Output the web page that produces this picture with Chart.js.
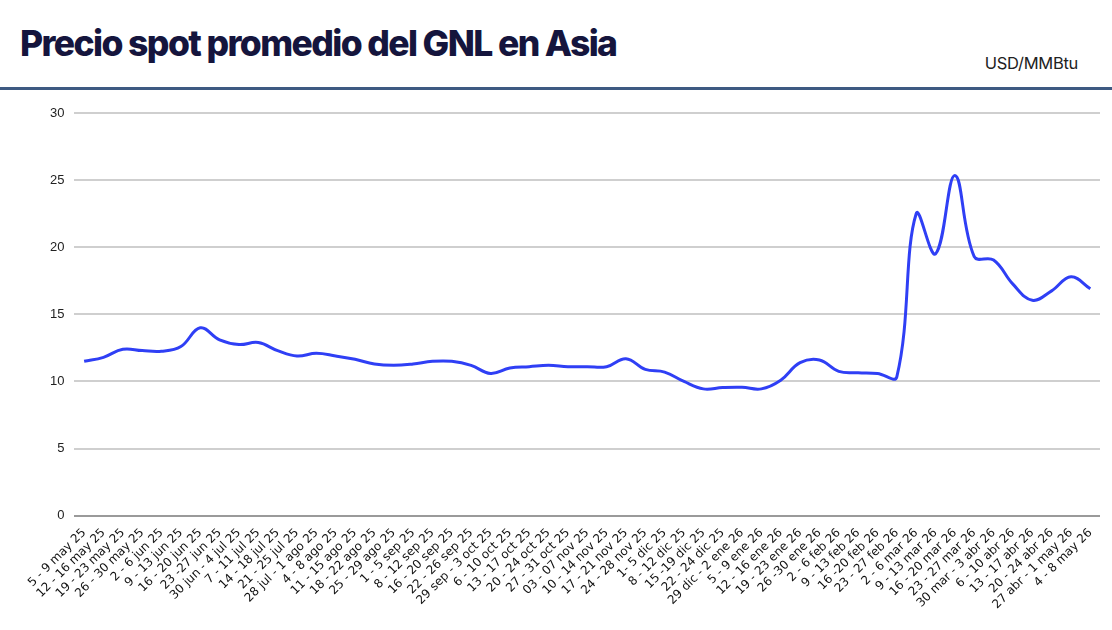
<!DOCTYPE html>
<html>
<head>
<meta charset="utf-8">
<script src="https://cdn.jsdelivr.net/npm/chart.js@4.4.1/dist/chart.umd.min.js"></script>
<style>
  html, body { margin: 0; padding: 0; background: #fff; }
  body { width: 1112px; height: 630px; position: relative; overflow: hidden; }
  #title {
    position: absolute; left: 20px; top: 22px;
    font-family: Inter, sans-serif; font-weight: 800; font-size: 35.5px;
    letter-spacing: -1.6px; color: #15153d; white-space: nowrap;
  }
  #unit {
    position: absolute; right: 34px; top: 53px;
    font-family: Inter, sans-serif; font-size: 16.5px; color: #222;
    letter-spacing: -0.3px;
  }
  #rule {
    position: absolute; left: 0; top: 87px; width: 1112px; height: 3px;
    background: #3e5a82;
  }
  #wrap { position: absolute; left: 0; top: 92px; width: 1112px; height: 522px; }
</style>
</head>
<body>
<div id="title">Precio spot promedio del GNL en Asia</div>
<div id="unit">USD/MMBtu</div>
<div id="rule"></div>
<div id="wrap"><canvas id="lngChart"></canvas></div>
<script>
// semanas (eje x)
const weeks = [
  '5 - 9 may 25', '12 - 16 may 25', '19 - 23 may 25', '26 - 30 may 25',
  '2 - 6 jun 25', '9 - 13 jun 25', '16 - 20 jun 25', '23 -27 jun 25',
  '30 jun - 4 jul 25', '7 - 11 jul 25', '14 - 18 jul 25', '21 - 25 jul 25',
  '28 jul - 1 ago 25', '4 - 8 ago 25', '11 - 15 ago 25', '18 - 22 ago 25',
  '25 - 29 ago 25', '1 - 5 sep 25', '8 - 12 sep 25', '16 - 20 sep 25',
  '22 - 26 sep 25', '29 sep - 3 oct 25', '6 - 10 oct 25', '13 - 17 oct 25',
  '20 - 24 oct 25', '27 - 31 oct 25', '03 - 07 nov 25', '10 - 14 nov 25',
  '17 - 21 nov 25', '24 - 28 nov 25', '1- 5 dic 25', '8 - 12 dic 25',
  '15 -19 dic 25', '22 - 24 dic 25', '29 dic - 2 ene 26', '5 - 9 ene 26',
  '12 - 16 ene 26', '19 - 23 ene 26', '26 -30 ene 26', '2 - 6 feb 26',
  '9 - 13 feb 26', '16 -20 feb 26', '23 - 27 feb 26', '2 - 6 mar 26',
  '9 - 13 mar 26', '16 - 20 mar 26', '23 - 27 mar 26', '30 mar - 3 abr 26',
  '6 - 10 abr 26', '13 - 17 abr 26', '20 - 24 abr 26', '27 abr - 1 may 26',
  '4 - 8 may 26'
];

// precio promedio, USD/MMBtu
const prices = [
  11.5, 11.8, 12.4, 12.3, 12.25, 12.6, 14.0, 13.1, 12.75, 12.9,
  12.3, 11.9, 12.1, 11.9, 11.65, 11.3, 11.2, 11.3, 11.5, 11.5,
  11.2, 10.6, 11.0, 11.1, 11.2, 11.1, 11.1, 11.1, 11.7, 10.9,
  10.7, 10.0, 9.45, 9.55, 9.57, 9.45, 10.1, 11.4, 11.6, 10.75,
  10.65, 10.6, 10.35, 22.5, 19.5, 25.35, 19.3, 19.05, 17.25, 16.05,
  16.75, 17.8, 16.9
];

const yTicks = [0, 5, 10, 15, 20, 25, 30];

const ctx = document.getElementById('lngChart').getContext('2d');
const lngChart = new Chart(ctx, {
    type: 'line',
    data: {
        labels: weeks,
        datasets: [{
            label: 'GNL Asia',
            data: prices,
            borderColor: '#2f3ff5',
            borderWidth: 3,
            pointRadius: 0,
            tension: 0.4,
            fill: false
        }]
    },
    options: {
        responsive: true,
        maintainAspectRatio: false,
        animation: false,
        layout: { padding: { top: 21, right: 12, left: 40, bottom: 0 } },
        plugins: {
            legend: { display: false },
            tooltip: { enabled: false }
        },
        scales: {
            x: {
                offset: true,
                grid: { display: false },
                border: { display: false },
                ticks: {
                    autoSkip: false,
                    maxRotation: 45,
                    minRotation: 45,
                    color: '#111',
                    padding: 2,
                    font: { family: 'DejaVu Sans, sans-serif', size: 12 }
                }
            },
            y: {
                min: 0,
                max: 30,
                afterBuildTicks: axis => {
                    axis.ticks = yTicks.map(v => ({ value: v }));
                },
                border: { display: false },
                grid: {
                    drawTicks: false,
                    lineWidth: 2,
                    color: c => c.tick && c.tick.value === 0 ? '#9a9a9a' : '#cfcfcf'
                },
                ticks: {
                    padding: 10,
                    color: '#222',
                    font: { family: 'Liberation Sans, Arial, sans-serif', size: 13 }
                }
            }
        }
    }
});
</script>
</body>
</html>
